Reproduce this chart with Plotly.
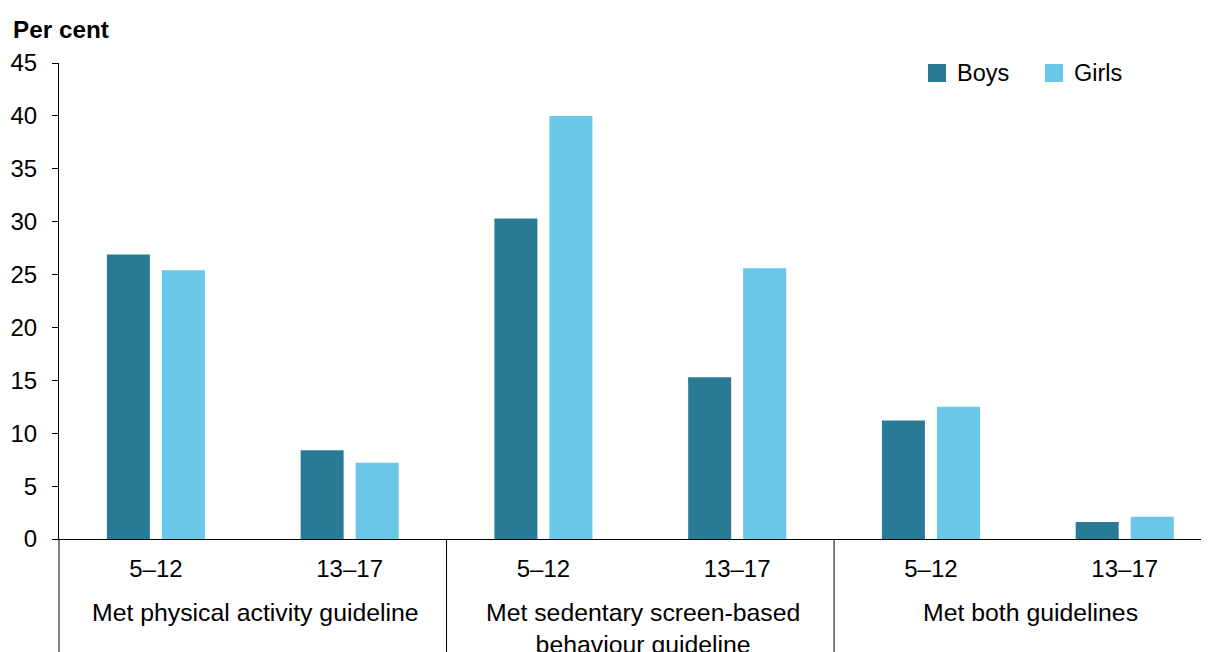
import plotly.graph_objects as go

# ---- data ----
guidelines = ["Met physical activity guideline",
              "Met sedentary screen-based<br>behaviour guideline",
              "Met both guidelines"]
age_groups = ["5–12", "13–17"]
boys = [26.9, 8.4, 30.3, 15.3, 11.2, 1.6]
girls = [25.4, 7.2, 40.0, 25.6, 12.5, 2.1]
y_ticks = [0, 5, 10, 15, 20, 25, 30, 35, 40, 45]

BOYS_C = "#297B95"
GIRLS_C = "#69C7E7"
FONT = "Liberation Sans, Arial, sans-serif"

OFF = 8  # page body margin
W, H = 1201, 644
ML, MR, MT, MB = 51, 0, 55, 113
PW, PH = W - ML - MR, H - MT - MB
XR = [-0.5, 5.435]
PLOT_L = OFF + ML
PLOT_B = OFF + H - MB

def px_x(p):
    return (p - PLOT_L) / PW

def px_y(p):
    return (PLOT_B - p) / PH

def data_x(v):
    return (v - XR[0]) / (XR[1] - XR[0])

positions = list(range(len(boys)))
ticktext = [a for _ in guidelines for a in age_groups]

fig = go.Figure()
fig.add_trace(go.Bar(x=positions, y=boys, name="Boys", marker_color=BOYS_C,
                     width=0.222, offset=-0.253, marker_line_width=0))
fig.add_trace(go.Bar(x=positions, y=girls, name="Girls", marker_color=GIRLS_C,
                     width=0.222, offset=0.031, marker_line_width=0))

shapes = []
for xv in [-0.5, 1.5, 3.5]:
    shapes.append(dict(type="line", xref="paper", yref="paper",
                       x0=data_x(xv), x1=data_x(xv), y0=0, y1=px_y(700),
                       line=dict(color="#000", width=1)))
legend_items = [("Boys", BOYS_C, 928, 955), ("Girls", GIRLS_C, 1045, 1072)]
annotations = []
for name, col, sx, tx in legend_items:
    shapes.append(dict(type="rect", xref="paper", yref="paper",
                       x0=px_x(sx), x1=px_x(sx + 18), y0=px_y(82), y1=px_y(64),
                       fillcolor=col, line=dict(width=0)))
    annotations.append(dict(text=name, xref="paper", yref="paper",
                            x=px_x(tx), y=px_y(73), xanchor="left", yanchor="middle",
                            showarrow=False, font=dict(size=23.5, color="#000", family=FONT)))

for i, g in enumerate(guidelines):
    annotations.append(dict(text=g, xref="paper", yref="paper",
                            x=data_x(2 * i + 0.5), y=px_y(597), xanchor="center", yanchor="top",
                            xshift=3,
                            showarrow=False, font=dict(size=24.8, color="#000", family=FONT)))

annotations.append(dict(text="<b>Per cent</b>", xref="paper", yref="paper",
                        x=px_x(11), y=px_y(29), xanchor="left", yanchor="middle",
                        showarrow=False, font=dict(size=24.3, color="#000", family=FONT)))

fig.update_layout(
    width=W, height=H,
    margin=dict(l=ML, r=MR, t=MT, b=MB, pad=0),
    plot_bgcolor="white", paper_bgcolor="white",
    showlegend=False,
    barmode="overlay",
    font=dict(family=FONT, size=24, color="#000"),
    xaxis=dict(range=XR, tickvals=positions, ticktext=ticktext, showgrid=False,
               zeroline=False, showline=True, linecolor="#000", linewidth=1,
               ticks="", tickfont=dict(size=24, color="#000"), ticklabelstandoff=8),
    yaxis=dict(range=[0, 45], tickvals=y_ticks, showgrid=False, zeroline=False,
               showline=True, linecolor="#000", linewidth=1, ticks="outside",
               ticklen=6, tickcolor="#000", tickfont=dict(size=24, color="#000"),
               ticklabelstandoff=10),
    shapes=shapes, annotations=annotations,
)

fig.write_html("out.html")
